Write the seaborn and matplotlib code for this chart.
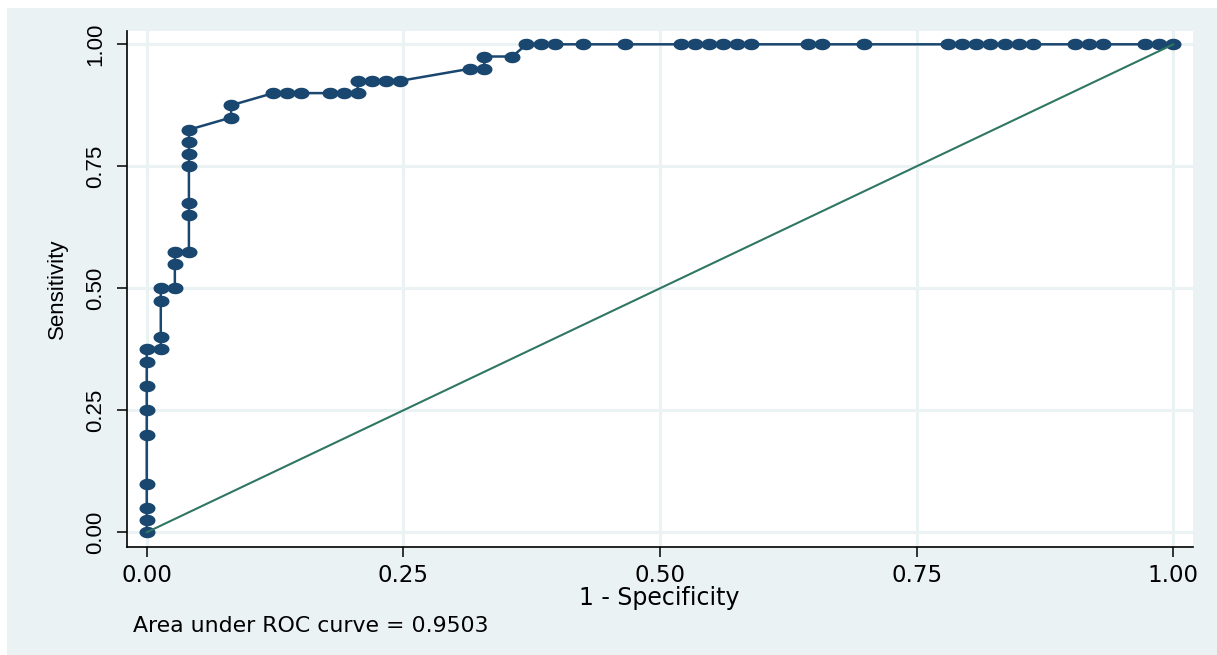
import numpy as np
import pandas as pd
import matplotlib
matplotlib.use("Agg")
import matplotlib.pyplot as plt
from matplotlib.path import Path
from matplotlib.patches import Rectangle
import seaborn as sns

# ROC coordinates, ordered along the curve from (0, 0) to (1, 1)
fpr = [0.0, 0.0, 0.0, 0.0, 0.0, 0.0, 0.0, 0.0, 0.0,
       0.0137, 0.0137, 0.0137, 0.0137,
       0.0274, 0.0274, 0.0274,
       0.0411, 0.0411, 0.0411, 0.0411, 0.0411, 0.0411, 0.0411,
       0.0822, 0.0822,
       0.1233, 0.1370, 0.1507, 0.1781, 0.1918, 0.2055,
       0.2055, 0.2192, 0.2329, 0.2466,
       0.3151, 0.3288, 0.3288, 0.3562,
       0.3699, 0.3836, 0.3973, 0.4247, 0.4658,
       0.5205, 0.5342, 0.5479, 0.5616, 0.5753, 0.5890,
       0.6438, 0.6575, 0.6986,
       0.7808, 0.7945, 0.8082, 0.8219, 0.8356, 0.8493, 0.8630,
       0.9041, 0.9178, 0.9315,
       0.9726, 0.9863, 1.0]
tpr = [0.0, 0.025, 0.05, 0.1, 0.2, 0.25, 0.3, 0.35, 0.375,
       0.375, 0.4, 0.475, 0.5,
       0.5, 0.55, 0.575,
       0.575, 0.65, 0.675, 0.75, 0.775, 0.8, 0.825,
       0.85, 0.875,
       0.9, 0.9, 0.9, 0.9, 0.9, 0.9,
       0.925, 0.925, 0.925, 0.925,
       0.95, 0.95, 0.975, 0.975,
       1.0, 1.0, 1.0, 1.0, 1.0,
       1.0, 1.0, 1.0, 1.0, 1.0, 1.0,
       1.0, 1.0, 1.0,
       1.0, 1.0, 1.0, 1.0, 1.0, 1.0, 1.0,
       1.0, 1.0, 1.0,
       1.0, 1.0, 1.0]
ref_x = [0.0, 1.0]
ref_y = [0.0, 1.0]
tick_values = [0.0, 0.25, 0.5, 0.75, 1.0]
tick_labels = ["0.00", "0.25", "0.50", "0.75", "1.00"]

NAVY = "#1A476F"
GREEN = "#2F7663"
BG = "#EAF2F3"

df = pd.DataFrame({"fpr": fpr, "tpr": tpr})
auc = np.trapezoid(df["tpr"], df["fpr"])

sns.set_style("ticks")
plt.rcParams["font.family"] = ["DejaVu Sans"]
plt.rcParams["text.color"] = "black"
plt.rcParams["axes.labelcolor"] = "black"
plt.rcParams["xtick.color"] = "black"
plt.rcParams["ytick.color"] = "black"

W, H = 1217, 655
fig = plt.figure(figsize=(W / 100, H / 100), dpi=100, facecolor="white")
fig.add_artist(Rectangle((7 / W, 0), 1 - 7 / W, 1 - 8 / H, transform=fig.transFigure,
                         facecolor=BG, edgecolor="none", zorder=0))

left, right, bottom, top = 126.7 / W, 1192.7 / W, (H - 546.7) / H, (H - 30.5) / H
ax = fig.add_axes([left, bottom, right - left, top - bottom])
ax.set_facecolor("white")

# slightly wide oval marker
t = np.linspace(0, 2 * np.pi, 64)
oval = Path(np.column_stack([np.cos(t), 0.72 * np.sin(t)]), closed=True)

sns.lineplot(data=df, x="fpr", y="tpr", sort=False, estimator=None, ax=ax,
             color=NAVY, linewidth=1.8, marker=oval, markersize=11.5,
             markeredgewidth=0, markeredgecolor=NAVY, markerfacecolor=NAVY, zorder=3)
sns.lineplot(x=ref_x, y=ref_y, ax=ax, color=GREEN, linewidth=1.5, zorder=4)

ax.set_xlim(-0.0195, 1.0189)
ax.set_ylim(-0.0295, 1.0283)
ax.set_xticks(tick_values, labels=tick_labels)
ax.set_yticks(tick_values, labels=tick_labels)

ax.grid(True, color=BG, linewidth=2.2)
ax.set_axisbelow(True)
sns.despine(ax=ax)
for side in ("left", "bottom"):
    ax.spines[side].set_color("black")
    ax.spines[side].set_linewidth(1.2)

ax.tick_params(axis="both", direction="out", length=7.5, width=1.1,
               color="black", labelcolor="black")
ax.tick_params(axis="x", pad=5.0, labelsize=16.5)
ax.tick_params(axis="y", pad=7.0, labelsize=16)
for lab in ax.get_yticklabels():
    lab.set_rotation(90)
    lab.set_va("center")
    lab.set_family("Liberation Sans")

ax.set_xlabel("1 - Specificity", fontsize=17, color="black")
ax.xaxis.set_label_coords(0.5, -(605 - 546.7) / (546.7 - 30.5))
ax.xaxis.label.set_va("baseline")

ax.set_ylabel("Sensitivity", fontsize=16, family="Liberation Sans", color="black")
ax.yaxis.set_label_coords(-(126.7 - 62.5) / (1192.7 - 126.7), 0.5)
ax.yaxis.label.set_va("baseline")

fig.text(132.7 / W, (H - 631.7) / H, f"Area under ROC curve = {auc:.4f}",
         fontsize=15.8, color="black", va="baseline", ha="left")

fig.savefig("out.png", dpi=100, facecolor=fig.get_facecolor())
